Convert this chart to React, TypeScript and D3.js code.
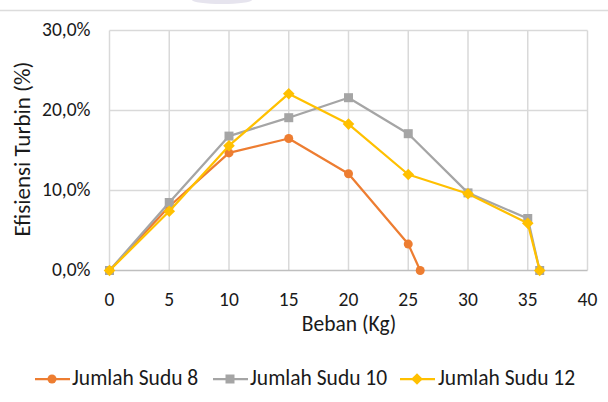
import React from "react";
import * as d3 from "d3";

const loads8 = [0, 5, 10, 15, 20, 25, 26];
const eff8 = [0, 8.0, 14.7, 16.5, 12.1, 3.3, 0];
const loads10 = [0, 5, 10, 15, 20, 25, 30, 35, 36];
const eff10 = [0, 8.5, 16.8, 19.1, 21.6, 17.1, 9.7, 6.5, 0];
const loads12 = [0, 5, 10, 15, 20, 25, 30, 35, 36];
const eff12 = [0, 7.4, 15.6, 22.1, 18.3, 12.0, 9.6, 5.9, 0];
const xTicks = [0, 5, 10, 15, 20, 25, 30, 35, 40];
const yTicks = [0, 10, 20, 30];
const seriesNames = ["Jumlah Sudu 8", "Jumlah Sudu 10", "Jumlah Sudu 12"];
const colors = ["#ED7D31", "#A5A5A5", "#FFC000"];

const W = 608, H = 402;
const x = d3.scaleLinear().domain([0, 40]).range([109.5, 587.5]);
const y = d3.scaleLinear().domain([0, 30]).range([270.5, 30.5]);
const font = "Carlito, 'Open Sans', 'Liberation Sans', sans-serif";

function Marker({ kind, cx, cy, color }: { kind: number; cx: number; cy: number; color: string }) {
  if (kind === 0) return <circle cx={cx} cy={cy} r={4.5} fill={color} />;
  if (kind === 1) return <rect x={cx - 4.5} y={cy - 4.5} width={9} height={9} fill={color} />;
  const s = 5.8;
  return <path d={`M${cx},${cy - s}L${cx + s},${cy}L${cx},${cy + s}L${cx - s},${cy}Z`} fill={color} />;
}

export default function App() {
  const series = [
    { xs: loads8, ys: eff8 },
    { xs: loads10, ys: eff10 },
    { xs: loads12, ys: eff12 },
  ];
  const line = d3.line<[number, number]>().x((d) => x(d[0])).y((d) => y(d[1]));
  const fmt = (v: number) => v.toFixed(1).replace(".", ",") + "%";
  const legendItems = [
    { lx: 35, tx: 72 },
    { lx: 213, tx: 250 },
    { lx: 400, tx: 438 },
  ];
  return (
    <svg width={W} height={H} style={{ position: "absolute", left: 0, top: 0, background: "#fff" }}>
      <rect width={W} height={H} fill="#fff" />
      <ellipse cx={222} cy={0} rx={30} ry={4} fill="#e6e4ee" />
      <line x1={0} x2={W} y1={10.5} y2={10.5} stroke="#dcdcdc" strokeWidth={1.5} />
      {xTicks.map((t) => (
        <line key={"gx" + t} x1={x(t)} x2={x(t)} y1={y(30)} y2={y(0)} stroke="#d9d9d9" strokeWidth={1.5} />
      ))}
      {yTicks.map((t) => (
        <line key={"gy" + t} x1={x(0)} x2={x(40)} y1={y(t)} y2={y(t)} stroke={t === 0 ? "#bfbfbf" : "#d9d9d9"} strokeWidth={1.5} />
      ))}
      {yTicks.map((t) => (
        <text key={"ty" + t} x={90.5} y={y(t) + 5} textAnchor="end" fontFamily={font} fontSize={19.5} fill="#1a1a1a">
          {fmt(t)}
        </text>
      ))}
      {xTicks.map((t) => (
        <text key={"tx" + t} x={x(t)} y={306} textAnchor="middle" fontFamily={font} fontSize={19.5} fill="#1a1a1a">
          {t}
        </text>
      ))}
      <text x={349} y={330.5} textAnchor="middle" fontFamily={font} fontSize={21.5} fill="#1a1a1a">
        Beban (Kg)
      </text>
      <text transform={`translate(29.5,149) rotate(-90)`} textAnchor="middle" fontFamily={font} fontSize={23} fill="#1a1a1a">
        Efisiensi Turbin (%)
      </text>
      {series.map((s, i) => {
        const pts = s.xs.map((v, j) => [v, s.ys[j]] as [number, number]);
        return (
          <g key={"s" + i}>
            <path d={line(pts) || ""} fill="none" stroke={colors[i]} strokeWidth={2.25} strokeLinejoin="round" />
            {pts.map((p, j) => (
              <Marker key={j} kind={i} cx={x(p[0])} cy={y(p[1])} color={colors[i]} />
            ))}
          </g>
        );
      })}
      {legendItems.map((l, i) => (
        <g key={"l" + i}>
          <line x1={l.lx} x2={l.lx + 35} y1={379} y2={379} stroke={colors[i]} strokeWidth={2.25} />
          <Marker kind={i} cx={l.lx + 17} cy={379} color={colors[i]} />
          <text x={l.tx} y={385} fontFamily={font} fontSize={21.5} fill="#1a1a1a">
            {seriesNames[i]}
          </text>
        </g>
      ))}
    </svg>
  );
}
